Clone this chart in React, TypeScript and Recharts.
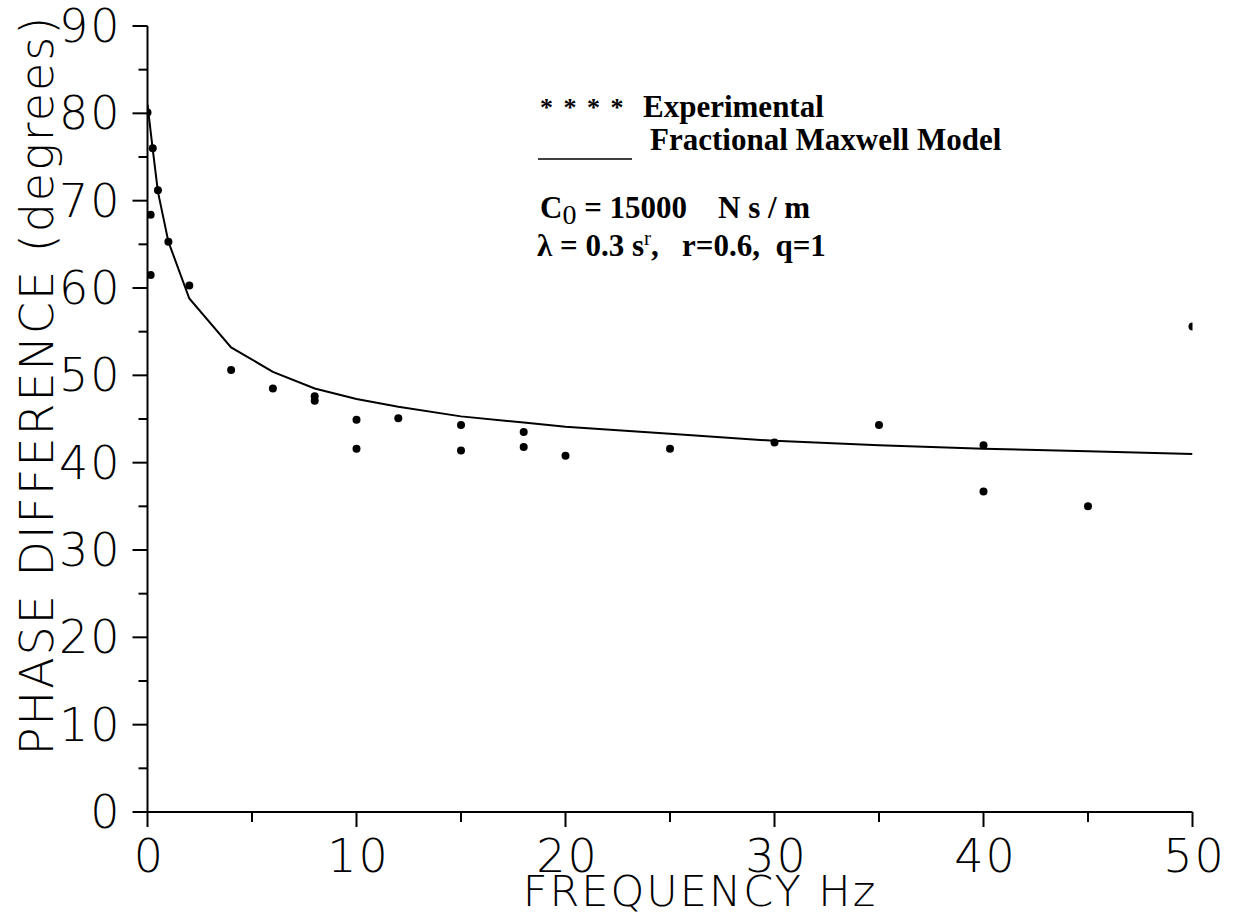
import { ComposedChart, Line, Scatter, XAxis, YAxis } from "recharts";

// experimental points (frequency Hz, phase degrees)
const expFreq = [0, 0.25, 0.5, 0.15, 1, 0.15, 2, 4, 6, 8, 8, 10, 10, 12, 15, 15, 18, 18, 20, 25, 30, 35, 40, 40, 45, 50];
const expPhase = [80.1, 76, 71.2, 68.4, 65.3, 61.5, 60.3, 50.6, 48.5, 47.6, 47.1, 44.9, 41.6, 45.1, 44.3, 41.4, 43.5, 41.8, 40.8, 41.6, 42.3, 44.3, 42.0, 36.7, 35.0, 55.6];

// fractional maxwell model curve
const modelFreq = [0, 0.25, 0.5, 1, 2, 4, 6, 8, 10, 12, 15, 18, 20, 25, 30, 35, 40, 45, 50];
const modelPhase = [81, 75.9, 71, 65.3, 58.8, 53.2, 50.4, 48.5, 47.3, 46.4, 45.3, 44.6, 44.1, 43.3, 42.5, 42.0, 41.6, 41.3, 41.0];

const xTicks = [0, 5, 10, 15, 20, 25, 30, 35, 40, 45, 50];
const yTicks = [0, 5, 10, 15, 20, 25, 30, 35, 40, 45, 50, 55, 60, 65, 70, 75, 80, 85, 90];

const expData = expFreq.map((f, i) => ({ f, phase: expPhase[i] }));
const modelData = modelFreq.map((f, i) => ({ f, phase: modelPhase[i] }));

const axisFont = { fontFamily: "'DejaVu Sans', sans-serif", fontWeight: 200, fontSize: 46, fill: "#000" };

const YTick = (props: any) => {
    const { x, y, payload } = props;
    const major = payload.value % 10 === 0;
    return (
        <g>
            <line x1={x - (major ? 15 : 9)} x2={x} y1={y} y2={y} stroke="#000" strokeWidth={2} />
            {major && (
                <text x={x - 26} y={y + 16} textAnchor="end" {...axisFont} letterSpacing={2}>
                    {payload.value}
                </text>
            )}
        </g>
    );
};

const XTick = (props: any) => {
    const { x, y, payload } = props;
    const major = payload.value % 10 === 0;
    return (
        <g>
            <line x1={x} x2={x} y1={y} y2={y + (major ? 15 : 10)} stroke="#000" strokeWidth={2} />
            {major && (
                <text x={x + 2} y={y + 60} textAnchor="middle" {...axisFont} letterSpacing={2}>
                    {payload.value}
                </text>
            )}
        </g>
    );
};

const Dot = (props: any) => {
    const { cx, cy } = props;
    return <circle cx={cx} cy={cy} r={4} fill="#000" />;
};

const legendFont = { fontFamily: "'Liberation Serif', 'Times New Roman', serif", fontWeight: 700, fontSize: 31, fill: "#000" };

export default function App() {
    return (
        <div style={{ position: "absolute", left: 0, top: 0, width: 1239, height: 917, background: "#fff" }}>
            <ComposedChart width={1239} height={917} margin={{ top: 26, right: 46.5, bottom: 0, left: 0 }}>
                <XAxis
                    type="number"
                    dataKey="f"
                    domain={[0, 50]}
                    ticks={xTicks}
                    height={105}
                    axisLine={{ stroke: "#000", strokeWidth: 2 }}
                    tickLine={false}
                    tickSize={0}
                    tickMargin={0}
                    tick={<XTick />}
                    interval={0}
                    allowDataOverflow
                    label={{
                        content: () => (
                            <text x={700} y={906} textAnchor="middle" {...axisFont} fontSize={43} letterSpacing={2}>
                                FREQUENCY  Hz
                            </text>
                        ),
                    }}
                />
                <YAxis
                    type="number"
                    dataKey="phase"
                    domain={[0, 90]}
                    ticks={yTicks}
                    width={147.5}
                    axisLine={{ stroke: "#000", strokeWidth: 2 }}
                    tickLine={false}
                    tickSize={0}
                    tickMargin={0}
                    tick={<YTick />}
                    interval={0}
                    allowDataOverflow
                    label={{
                        content: () => (
                            <text
                                x={0}
                                y={0}
                                transform="translate(53 385) rotate(-90)"
                                textAnchor="middle"
                                {...axisFont}
                                letterSpacing={2}
                            >
                                PHASE  DIFFERENCE  (degrees)
                            </text>
                        ),
                    }}
                />
                <Line
                    data={modelData}
                    dataKey="phase"
                    type="linear"
                    stroke="#000"
                    strokeWidth={2}
                    dot={false}
                    isAnimationActive={false}
                />
                <Scatter data={expData} dataKey="phase" fill="#000" shape={<Dot />} isAnimationActive={false} />
            </ComposedChart>
            <svg width={1239} height={917} style={{ position: "absolute", left: 0, top: 0, pointerEvents: "none" }}>
                <text x={540} y={116} {...legendFont} fontSize={26} letterSpacing={2} xmlSpace="preserve">* * * *</text>
                <text x={643} y={117} {...legendFont}>Experimental</text>
                <line x1={538} x2={632} y1={159} y2={159} stroke="#000" strokeWidth={1.5} />
                <text x={650} y={150} {...legendFont}>Fractional Maxwell Model</text>
                <text x={540} y={218} {...legendFont} xmlSpace="preserve">
                    C<tspan fontWeight={400} dy={6} fontSize={28}>0</tspan>
                    <tspan dy={-6}>{" = 15000    N s / m"}</tspan>
                </text>
                <text x={537} y={256} {...legendFont} xmlSpace="preserve">
                    λ = 0.3 s<tspan dy={-11} fontSize={21} fontWeight={400}>r</tspan>
                    <tspan dy={11}>{",   r=0.6,  q=1"}</tspan>
                </text>
            </svg>
        </div>
    );
}
